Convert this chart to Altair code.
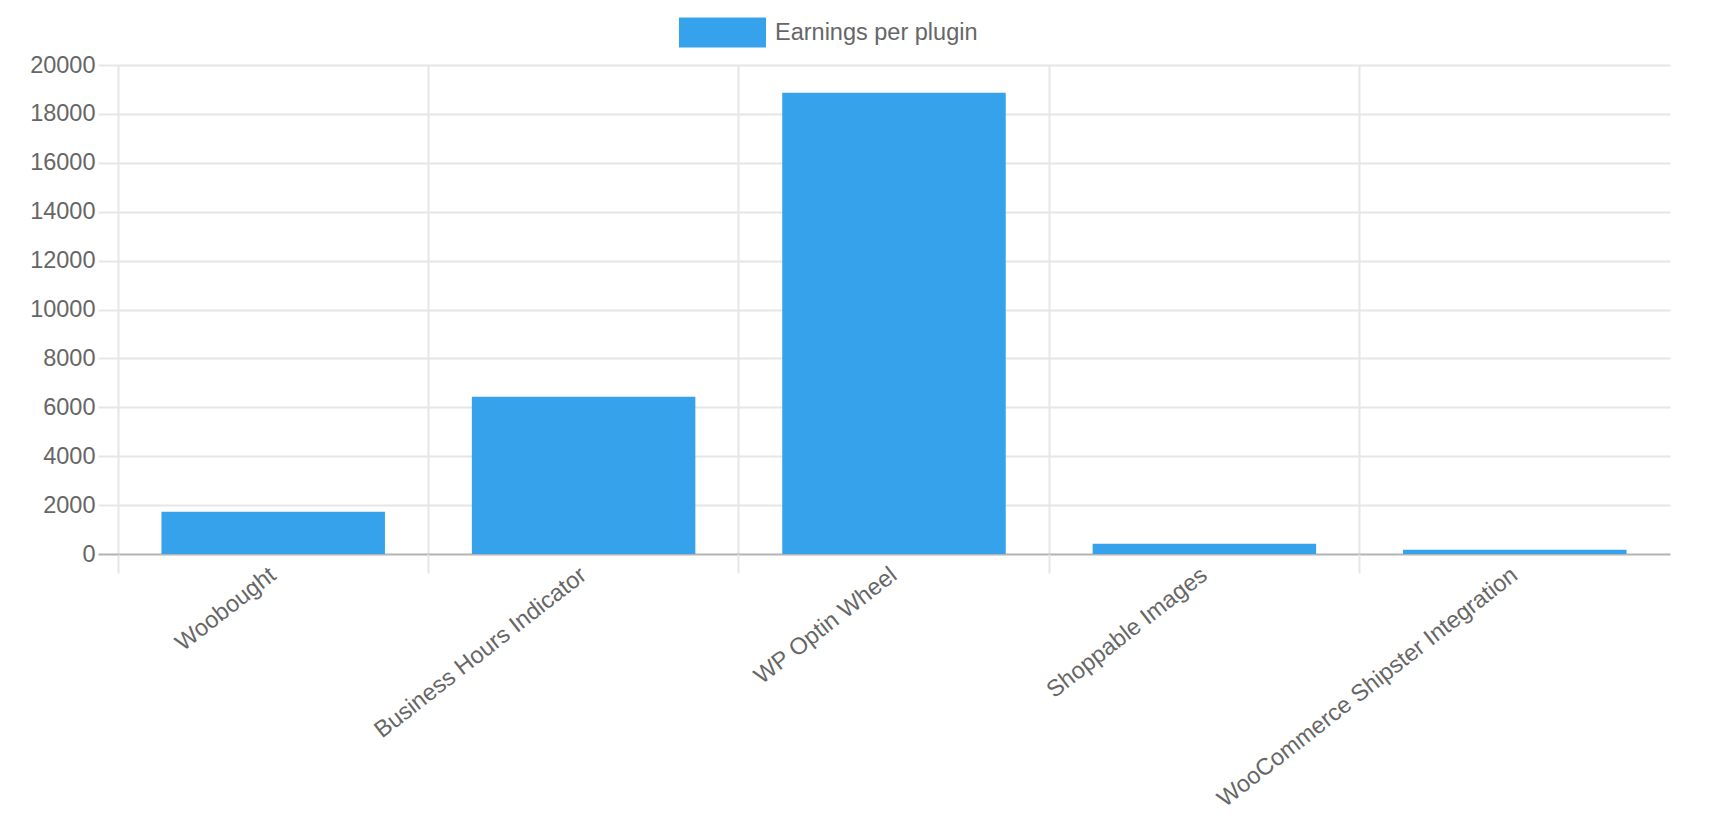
import altair as alt
import pandas as pd

plugins = [
    "Woobought",
    "Business Hours Indicator",
    "WP Optin Wheel",
    "Shoppable Images",
    "WooCommerce Shipster Integration",
]
earnings = [1730, 6430, 18870, 420, 170]
series_name = "Earnings per plugin"
y_ticks = [0, 2000, 4000, 6000, 8000, 10000, 12000, 14000, 16000, 18000, 20000]

df = pd.DataFrame({
    "plugin": plugins,
    "earnings": earnings,
    "series": [series_name] * len(plugins),
})

W, H = 1552, 489
FONT = "Liberation Sans"
GRID = "#e6e6e6"
ZERO = "#b3b3b3"
TXT = "#666666"
FS = 23.5

bars = alt.Chart(df).mark_bar(width=alt.RelativeBandSize(0.72), color="#36A2EB").encode(
    x=alt.X(
        "plugin:N",
        sort=plugins,
        scale=alt.Scale(paddingInner=0, paddingOuter=0),
        axis=alt.Axis(
            title=None,
            bandPosition=0,
            tickExtra=False,
            grid=True,
            gridColor=GRID,
            gridWidth=2,
            ticks=True,
            tickSize=19,
            tickColor=GRID,
            tickWidth=2,
            domain=False,
            labelAngle=-38,
            labelAlign="right",
            labelBaseline="middle",
            labelPadding=-1,
            labelFont=FONT,
            labelFontSize=FS,
            labelColor=TXT,
            labelLimit=800,
            labelOverlap=False,
        ),
    ),
    y=alt.Y(
        "earnings:Q",
        scale=alt.Scale(domain=[0, 20000], nice=False),
        axis=alt.Axis(
            title=None,
            values=y_ticks,
            format="d",
            grid=True,
            gridColor=alt.condition("datum.value === 0", alt.value(ZERO), alt.value(GRID)),
            gridWidth=2,
            ticks=True,
            tickSize=20,
            tickColor=alt.condition("datum.value === 0", alt.value(ZERO), alt.value(GRID)),
            tickWidth=2,
            domain=False,
            labelPadding=3,
            labelFont=FONT,
            labelFontSize=FS,
            labelColor=TXT,
        ),
    ),
    color=alt.Color(
        "series:N",
        scale=alt.Scale(range=["#36A2EB"]),
        legend=alt.Legend(
            title=None,
            orient="none",
            legendX=561,
            legendY=-76,
            direction="horizontal",
            symbolType="M-1,-0.345H1V0.345H-1Z",
            symbolSize=7569,
            symbolStrokeWidth=0,
            symbolOpacity=1,
            labelFont=FONT,
            labelFontSize=FS,
            labelColor=TXT,
            labelOffset=9,
            labelLimit=800,
            padding=0,
        ),
    ),
)

chart = bars.properties(
    width=W,
    height=H,
    autosize=alt.AutoSizeParams(type="none"),
    padding={"left": 110, "top": 57, "right": 34, "bottom": 260},
    background="white",
).configure_view(stroke=None)

chart.save("out.html", embed_options={"renderer": "svg", "actions": False})
